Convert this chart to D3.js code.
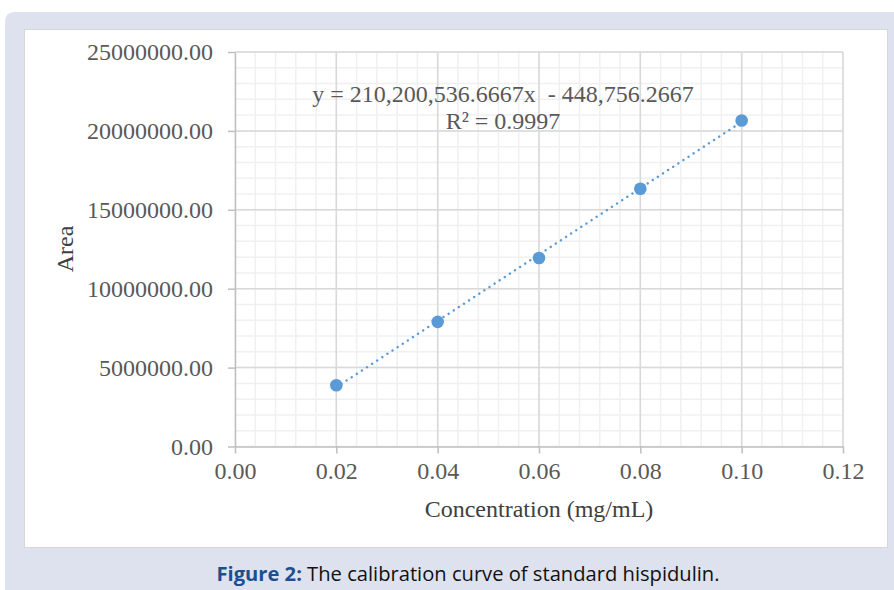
<!DOCTYPE html>
<html>
<head>
<meta charset="utf-8">
<script src="https://cdn.jsdelivr.net/npm/d3@7"></script>
<style>
  html, body { margin: 0; padding: 0; background: #ffffff; }
  svg { display: block; }
</style>
</head>
<body>
<svg id="chart" width="894" height="590"></svg>
<script>
// ---- data ----
const concentrations = [0.02, 0.04, 0.06, 0.08, 0.10];
const areas = [3880000, 7900000, 11950000, 16330000, 20660000];
const slope = 210200536.6667;
const intercept = -448756.2667;
const equationText = "y = 210,200,536.6667x  - 448,756.2667";
const r2Text = "R\u00B2 = 0.9997";
const xTicks = [0, 0.02, 0.04, 0.06, 0.08, 0.10, 0.12];
const yTicks = [0, 5000000, 10000000, 15000000, 20000000, 25000000];
const xLabel = "Concentration (mg/mL)";
const yLabel = "Area";
const captionBold = "Figure 2:";
const captionRest = " The calibration curve of standard hispidulin.";

const svg = d3.select("#chart");

// page frame
svg.append("path")
  .attr("d", "M5,22 Q5,12 15,12 L894,12 L894,590 L5,590 Z")
  .attr("fill", "#dee2ef");
svg.append("rect")
  .attr("x", 24.5).attr("y", 29.5).attr("width", 863).attr("height", 518)
  .attr("fill", "#ffffff").attr("stroke", "#d6d6d6").attr("stroke-width", 1);

// scales
const x = d3.scaleLinear().domain([0, 0.12]).range([235, 843]);
const y = d3.scaleLinear().domain([0, 25000000]).range([446.5, 52]);

// minor grid
const xMinor = d3.range(0, 0.12 + 1e-9, 0.004);
const yMinor = d3.range(0, 25000000 + 1, 1000000);
const grid = svg.append("g");
grid.selectAll(".vminor").data(xMinor).join("line")
  .attr("x1", d => x(d)).attr("x2", d => x(d))
  .attr("y1", y(0)).attr("y2", y(25000000))
  .attr("stroke", "#f0f0f0").attr("stroke-width", 1.5);
grid.selectAll(".hminor").data(yMinor).join("line")
  .attr("y1", d => y(d)).attr("y2", d => y(d))
  .attr("x1", x(0)).attr("x2", x(0.12))
  .attr("stroke", "#f0f0f0").attr("stroke-width", 1.5);
// major grid
grid.selectAll(".vmajor").data(xTicks.slice(1)).join("line")
  .attr("x1", d => x(d)).attr("x2", d => x(d))
  .attr("y1", y(0)).attr("y2", y(25000000))
  .attr("stroke", "#d9d9d9").attr("stroke-width", 1.5);
grid.selectAll(".hmajor").data(yTicks.slice(1)).join("line")
  .attr("y1", d => y(d)).attr("y2", d => y(d))
  .attr("x1", x(0)).attr("x2", x(0.12))
  .attr("stroke", "#d9d9d9").attr("stroke-width", 1.5);

// axes
const xAxis = d3.axisBottom(x).tickValues(xTicks).tickFormat(d3.format(".2f"))
  .tickSizeInner(7).tickSizeOuter(0).tickPadding(8);
const yAxis = d3.axisLeft(y).tickValues(yTicks).tickFormat(d3.format(".2f"))
  .tickSizeInner(7).tickSizeOuter(0).tickPadding(15);

const gx = svg.append("g").attr("transform", `translate(0,${y(0)})`).call(xAxis);
const gy = svg.append("g").attr("transform", `translate(${x(0)},0)`).call(yAxis);
[gx, gy].forEach(g => {
  g.select(".domain").attr("stroke", "#bfbfbf").attr("stroke-width", 1.5);
  g.selectAll(".tick line").attr("stroke", "#bfbfbf").attr("stroke-width", 1.5);
  g.selectAll(".tick text")
    .attr("fill", "#595959")
    .style("font-family", "'Liberation Serif', 'Times New Roman', serif")
    .style("font-size", "24px");
});
gx.selectAll(".tick text").attr("dy", "0.71em");

// trendline
const trendX = [concentrations[0], concentrations[concentrations.length - 1]];
svg.append("path")
  .datum(trendX)
  .attr("d", d3.line().x(d => x(d)).y(d => y(slope * d + intercept)))
  .attr("fill", "none")
  .attr("stroke", "#5b9bd5")
  .attr("stroke-width", 2.4)
  .attr("stroke-linecap", "round")
  .attr("stroke-dasharray", "0.1,6");

// points
svg.selectAll(".pt").data(concentrations).join("circle")
  .attr("cx", d => x(d))
  .attr("cy", (d, i) => y(areas[i]))
  .attr("r", 6.3)
  .attr("fill", "#5b9bd5");

// equation labels
const eq = svg.append("g")
  .style("font-family", "'Liberation Serif', 'Times New Roman', serif")
  .style("font-size", "24px")
  .attr("fill", "#595959");
eq.append("text").attr("x", 503).attr("y", 102).attr("text-anchor", "middle")
  .attr("xml:space", "preserve").style("white-space", "pre")
  .text(equationText);
eq.append("text").attr("x", 503).attr("y", 129).attr("text-anchor", "middle")
  .text(r2Text);

// axis titles
svg.append("text")
  .attr("x", 539).attr("y", 517).attr("text-anchor", "middle")
  .attr("fill", "#404040")
  .style("font-family", "'Liberation Serif', 'Times New Roman', serif")
  .style("font-size", "24px")
  .text(xLabel);
svg.append("text")
  .attr("transform", "translate(73,249) rotate(-90)")
  .attr("text-anchor", "middle")
  .attr("fill", "#404040")
  .style("font-family", "'Liberation Serif', 'Times New Roman', serif")
  .style("font-size", "24px")
  .text(yLabel);

// caption
const cap = svg.append("text")
  .attr("x", 468).attr("y", 581).attr("text-anchor", "middle")
  .style("font-family", "'Open Sans', 'Noto Sans', sans-serif")
  .style("font-size", "20px")
  .attr("textLength", 503).attr("lengthAdjust", "spacingAndGlyphs")
  .attr("xml:space", "preserve").style("white-space", "pre");
cap.append("tspan").attr("font-weight", "bold").attr("fill", "#1d4f8f").text(captionBold);
cap.append("tspan").attr("fill", "#111111").text(captionRest);
</script>
</body>
</html>
